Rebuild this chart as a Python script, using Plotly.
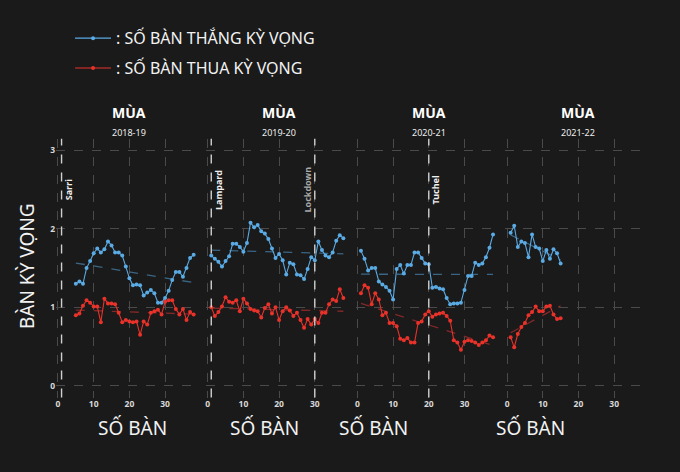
import numpy as np
import plotly.graph_objects as go
from plotly.subplots import make_subplots

# ──────────────────────────────────────────────
# Data: rolling xG for / against per season
# ──────────────────────────────────────────────
SEASONS = ["2018-19", "2019-20", "2020-21", "2021-22"]
START_GAME = [5, 1, 1, 1]

XG_FOR_1819 = [1.30, 1.33, 1.30, 1.50, 1.59, 1.69, 1.75, 1.70, 1.74, 1.84,
               1.79, 1.70, 1.70, 1.66, 1.52, 1.37, 1.28, 1.29, 1.28, 1.15,
               1.19, 1.22, 1.18, 1.06, 1.06, 1.12, 1.21, 1.35, 1.45, 1.45,
               1.39, 1.50, 1.63, 1.67]
XG_AGAINST_1819 = [0.90, 0.92, 1.02, 1.09, 1.06, 1.01, 1.01, 0.81, 1.11, 1.05,
                   1.05, 1.04, 0.93, 0.81, 0.84, 0.82, 0.81, 0.82, 0.65, 0.82,
                   0.78, 0.93, 0.95, 0.97, 0.91, 1.07, 1.09, 1.09, 0.98, 0.91,
                   0.98, 0.84, 0.94, 0.91]

XG_FOR_1920 = [1.66, 1.62, 1.58, 1.52, 1.59, 1.65, 1.81, 1.81, 1.77, 1.71,
               1.82, 2.08, 2.02, 2.05, 1.97, 1.94, 1.87, 1.75, 1.63, 1.68,
               1.60, 1.42, 1.57, 1.55, 1.42, 1.41, 1.36, 1.49, 1.64, 1.60,
               1.84, 1.73, 1.66, 1.64, 1.70, 1.85, 1.92, 1.88]
XG_AGAINST_1920 = [1.00, 0.89, 0.94, 1.01, 1.13, 1.07, 1.06, 1.09, 0.95, 1.11,
                   1.05, 0.98, 0.96, 0.95, 0.87, 0.99, 1.04, 0.92, 1.00, 0.84,
                   0.95, 1.00, 0.96, 0.89, 0.93, 0.84, 0.74, 0.85, 0.78, 0.85,
                   0.80, 0.93, 0.93, 1.04, 1.10, 1.08, 1.23, 1.12]

XG_FOR_2021 = [1.72, 1.62, 1.47, 1.50, 1.50, 1.33, 1.29, 1.26, 1.21, 1.10,
               1.49, 1.54, 1.43, 1.54, 1.54, 1.70, 1.70, 1.63, 1.56, 1.55,
               1.25, 1.26, 1.24, 1.23, 1.12, 1.04, 1.05, 1.05, 1.06, 1.22,
               1.40, 1.40, 1.57, 1.54, 1.56, 1.64, 1.76, 1.93]
XG_AGAINST_2021 = [1.18, 1.28, 1.25, 1.04, 1.18, 1.10, 0.90, 0.93, 0.80, 0.80,
                   0.76, 0.60, 0.58, 0.61, 0.55, 0.55, 0.80, 0.82, 0.91, 0.95,
                   0.88, 0.91, 0.92, 0.93, 0.89, 0.83, 0.58, 0.55, 0.46, 0.56,
                   0.58, 0.57, 0.55, 0.52, 0.55, 0.58, 0.64, 0.62]

XG_FOR_2122 = [1.95, 2.04, 1.77, 1.84, 1.82, 1.64, 1.93, 1.77, 1.75, 1.59,
               1.73, 1.62, 1.74, 1.69, 1.56]
XG_AGAINST_2122 = [0.62, 0.49, 0.66, 0.75, 0.80, 0.90, 0.94, 1.01, 0.95, 0.95,
                   1.01, 1.02, 0.91, 0.85, 0.86]

XG_FOR = [XG_FOR_1819, XG_FOR_1920, XG_FOR_2021, XG_FOR_2122]
XG_AGAINST = [XG_AGAINST_1819, XG_AGAINST_1920, XG_AGAINST_2021, XG_AGAINST_2122]

# managerial changes / events: (panel index, game, label)
EVENTS = [(0, 1, "Sarri"), (1, 1, "Lampard"), (1, 30, "Lockdown"), (2, 20, "Tuchel")]

X_TICKS = [0, 10, 20, 30]
Y_TICKS = [0, 1, 2, 3]

BG = "#1a1a1a"
BLUE = "#5aaae4"
RED = "#e8322a"
BLUE_TREND = "#3b6584"
RED_TREND = "#832828"
GRID = "#4a4a4a"
FONT = "Noto Sans"

fig = make_subplots(rows=1, cols=4, shared_yaxes=True)

for i in range(4):
    col = i + 1
    games = np.arange(START_GAME[i], START_GAME[i] + len(XG_FOR[i]))
    for vals, color, trend_color, name in [
        (XG_FOR[i], BLUE, BLUE_TREND, ": SỐ BÀN THẮNG KỲ VỌNG"),
        (XG_AGAINST[i], RED, RED_TREND, ": SỐ BÀN THUA KỲ VỌNG"),
    ]:
        # linear trend
        coef = np.polyfit(games, vals, 1)
        fig.add_trace(go.Scatter(
            x=games, y=np.polyval(coef, games), mode="lines",
            line=dict(color=trend_color, width=1.3, dash="dash"),
            showlegend=False, hoverinfo="skip",
        ), row=1, col=col)
        fig.add_trace(go.Scatter(
            x=games, y=vals, mode="lines+markers", name=name,
            line=dict(color=color, width=1.1),
            marker=dict(color=color, size=4),
            showlegend=(i == 0), legendgroup=name,
        ), row=1, col=col)

    xr = f"x{col if col > 1 else ''}"
    fig.add_annotation(text="<b>MÙA</b>", x=20, xref=xr, xanchor="center",
                       y=0.7627, yref="paper", yanchor="middle", showarrow=False,
                       font=dict(family=FONT, size=14, color="white"))
    fig.add_annotation(text=SEASONS[i], x=20, xref=xr, xanchor="center",
                       y=0.7203, yref="paper", yanchor="middle", showarrow=False,
                       font=dict(family=FONT, size=9, color="#eeeeee"))

for panel, game, label in EVENTS:
    xr = f"x{panel + 1 if panel > 0 else ''}"
    fig.add_shape(type="line", x0=game, x1=game, xref=xr,
                  y0=0, y1=1, yref="y domain",
                  line=dict(color="#d0d0d0", width=1.4, dash="dash"))
    fig.add_annotation(text=f"<b>{label}</b>", x=game, xref=xr, y=2.5, yref="y",
                       textangle=-90, showarrow=False,
                       xshift=-7 if label == "Lockdown" else 7,
                       font=dict(family=FONT, size=9,
                                 color="#a8a8a8" if label == "Lockdown" else "#f0f0f0"))

# x-axis titles under each panel
for cx in [132, 264, 373, 530]:
    fig.add_annotation(text="SỐ BÀN", x=cx / 680, xref="paper", xanchor="center",
                       y=1 - 428 / 472, yref="paper", yanchor="middle",
                       showarrow=False, font=dict(family=FONT, size=19, color="#f2f2f2"))

fig.add_annotation(text="BÀN KỲ VỌNG", x=27 / 680, xref="paper", xanchor="center",
                   y=1 - 266 / 472, yref="paper", yanchor="middle",
                   textangle=-90, showarrow=False,
                   font=dict(family=FONT, size=19, color="#f2f2f2"))

# panel placement
px0, step, w = 56.2, 149.7, 142.8
for i in range(4):
    key = "xaxis" if i == 0 else f"xaxis{i + 1}"
    fig.layout[key].update(
        domain=[(px0 + i * step) / 680, (px0 + i * step + w) / 680],
        range=[-0.5, 39.5], tickvals=X_TICKS, showgrid=True,
        gridcolor=GRID, griddash="dash", gridwidth=1, zeroline=False,
        showline=False, tickfont=dict(family=FONT, size=8.5, color="#d8d8d8", weight="bold"),
    )
fig.update_yaxes(domain=[0.1578, 0.7061], range=[-0.15, 3.15], tickvals=Y_TICKS,
                 showgrid=True, gridcolor=GRID, griddash="dash", gridwidth=1,
                 zeroline=False, showline=False,
                 tickfont=dict(family=FONT, size=8.5, color="#d8d8d8", weight="bold"))

fig.update_layout(
    width=680, height=472,
    margin=dict(l=0, r=0, t=0, b=0),
    paper_bgcolor=BG, plot_bgcolor=BG,
    showlegend=True,
    legend=dict(x=0.103, y=0.955, xanchor="left", yanchor="top",
                bgcolor="rgba(0,0,0,0)", itemwidth=36,
                font=dict(family=FONT, size=16, color="#f2f2f2"),
                tracegroupgap=6),
)

fig.write_html("out.html", config={"displayModeBar": False},
               post_script="document.body.style.margin='0';")
